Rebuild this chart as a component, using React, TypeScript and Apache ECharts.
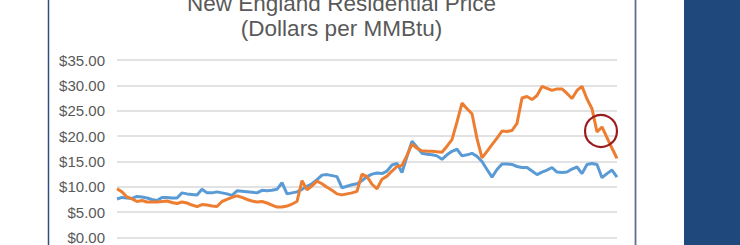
import React, { useEffect, useRef } from "react";
import * as echarts from "echarts";

const titleLines = ["New England Residential Price", "(Dollars per MMBtu)"];
const yTicks = { min: 0, max: 35, interval: 5 };

const blueSeries = [
  7.6, 7.9, 7.8, 7.7, 8.1, 8.0, 7.8, 7.5, 7.3, 7.9,
  7.9, 7.8, 7.8, 8.8, 8.6, 8.5, 8.4, 9.5, 8.8, 8.8,
  9.0, 8.8, 8.6, 8.3, 9.2, 9.1, 9.0, 8.9, 8.8, 9.3,
  9.2, 9.3, 9.5, 10.8, 8.6, 8.8, 9.0, 9.5, 10.1, 10.6,
  11.4, 12.3, 12.4, 12.2, 12.0, 9.8, 10.1, 10.4, 10.6, 11.2,
  12.0, 12.5, 12.7, 12.6, 13.1, 14.3, 14.6, 12.8, 16.0, 19.0,
  17.8, 16.6, 16.4, 16.3, 16.1, 15.4, 16.3, 17.0, 17.4, 16.1,
  16.3, 16.6, 16.0, 15.0, 13.4, 11.9, 13.4, 14.5, 14.5, 14.4,
  14.0, 13.8, 13.8, 13.1, 12.4, 12.9, 13.3, 13.8, 12.9, 12.8,
  12.9, 13.5, 13.9, 12.6, 14.4, 14.6, 14.4, 11.8, 12.6, 13.3,
  11.9,
];

const orangeSeries = [
  9.6, 9.0, 8.0, 7.6, 7.1, 7.3, 7.0, 7.0, 7.0, 7.1,
  7.2, 6.9, 6.7, 7.0, 6.8, 6.4, 6.1, 6.5, 6.4, 6.2,
  6.1, 7.1, 7.5, 7.9, 8.2, 7.9, 7.5, 7.2, 7.0, 7.1,
  6.8, 6.4, 6.0, 6.0, 6.2, 6.6, 7.1, 11.2, 9.4, 10.2,
  11.1, 10.6, 9.9, 9.3, 8.6, 8.4, 8.6, 8.8, 9.1, 12.5,
  12.0, 10.5, 9.6, 11.5, 12.1, 13.1, 14.0, 14.2, 16.2, 18.4,
  17.6, 17.1, 17.0, 17.0, 16.9, 16.8, 18.0, 19.3, 22.8, 26.5,
  25.4, 24.4, 19.5, 15.7, 17.0, 18.3, 19.6, 21.0, 20.9, 21.1,
  22.5, 27.5, 27.8, 27.2, 28.0, 29.8, 29.4, 29.0, 29.3, 29.3,
  28.4, 27.4, 29.0, 29.8, 27.3, 25.4, 20.8, 21.8, 19.7, 17.6,
  15.6,
];

const categories = blueSeries.map((_, i) => String(i + 1));

export default function App() {
  const ref = useRef<HTMLDivElement>(null);

  useEffect(() => {
    if (!ref.current) return;
    const chart = echarts.init(ref.current, undefined, { renderer: "svg" });
    chart.setOption({
      animation: false,
      backgroundColor: "#ffffff",
      grid: { left: 117, right: 123, top: 60, bottom: 7, containLabel: false },
      xAxis: {
        type: "category",
        data: categories,
        boundaryGap: false,
        axisLine: { show: false },
        axisTick: { show: false },
        axisLabel: { show: false },
        splitLine: { show: false },
      },
      yAxis: {
        type: "value",
        min: yTicks.min,
        max: yTicks.max,
        interval: yTicks.interval,
        axisLine: { show: false },
        axisTick: { show: false },
        axisLabel: {
          formatter: (v: number) => "$" + v.toFixed(2),
          color: "#595959",
          fontSize: 15,
          fontFamily: "Liberation Sans, Arial, sans-serif",
          margin: 12,
        },
        splitLine: { lineStyle: { color: "#d9d9d9", width: 1.5 } },
      },
      series: [
        {
          type: "line",
          data: blueSeries,
          symbol: "none",
          lineStyle: { color: "#5b9bd5", width: 3 },
          z: 2,
        },
        {
          type: "line",
          data: orangeSeries,
          symbol: "none",
          lineStyle: { color: "#ed7d31", width: 3 },
          z: 3,
        },
      ],
      graphic: [
        {
          type: "line",
          shape: { x1: 48.5, y1: 0, x2: 48.5, y2: 245 },
          style: { stroke: "#2f4f7f", lineWidth: 1.5 },
        },
        {
          type: "line",
          shape: { x1: 635.5, y1: 0, x2: 635.5, y2: 245 },
          style: { stroke: "#5f6f8f", lineWidth: 1.8 },
        },
        {
          type: "rect",
          shape: { x: 684, y: 0, width: 56, height: 245 },
          style: { fill: "#1f497d" },
        },
        {
          type: "text",
          x: 341.5,
          y: 3,
          style: {
            text: titleLines[0],
            fill: "#595959",
            fontSize: 22.5,
            fontFamily: "Liberation Sans, Arial, sans-serif",
            textAlign: "center",
            textVerticalAlign: "middle",
          },
        },
        {
          type: "text",
          x: 341.5,
          y: 28,
          style: {
            text: titleLines[1],
            fill: "#595959",
            fontSize: 22.5,
            fontFamily: "Liberation Sans, Arial, sans-serif",
            textAlign: "center",
            textVerticalAlign: "middle",
          },
        },
        {
          type: "circle",
          shape: { cx: 601, cy: 131, r: 16 },
          style: { fill: "none", stroke: "#9b1c1f", lineWidth: 2.2 },
          z: 10,
        },
      ],
    });
    return () => chart.dispose();
  }, []);

  return (
    <div
      ref={ref}
      style={{ position: "fixed", left: 0, top: 0, width: 740, height: 245 }}
    />
  );
}
